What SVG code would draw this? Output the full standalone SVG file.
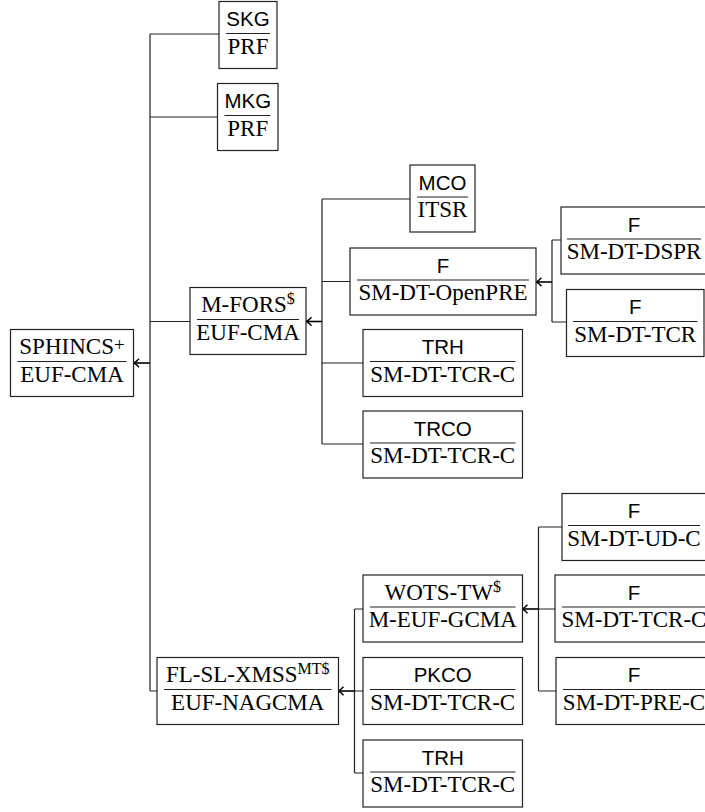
<svg xmlns="http://www.w3.org/2000/svg" width="705" height="812" viewBox="0 0 705 812">
<style>
.box{fill:#fff;stroke:#222;stroke-width:1.2}
.sep{stroke:#222;stroke-width:1.1}
.sf{font-family:"Liberation Sans",Arial,sans-serif;font-size:20.5px;text-anchor:middle;fill:#000}
.rm{font-family:"Liberation Serif","Times New Roman",serif;font-size:23px;text-anchor:middle;fill:#000}
.sup{font-size:16px}
.ln{fill:none;stroke:#222;stroke-width:1.2}
.ar{fill:none;stroke:#000;stroke-width:1.6;marker-end:url(#ah)}
</style>
<defs>
<marker id="ah" markerUnits="userSpaceOnUse" markerWidth="10" markerHeight="10" refX="8" refY="5" orient="auto" overflow="visible">
<path d="M3,0.8 Q6,4.2 8.5,5 Q6,5.8 3,9.2" fill="none" stroke="#000" stroke-width="1.4"/>
</marker>
</defs>
<rect width="705" height="812" fill="#fff"/>

<g id="connectors">
<path class="ln" d="M150,34 V691 M150,34 H219 M150,117 H217.5 M150,321.5 H190 M150,691 H157"/>
<path class="ar" d="M150,363 H134"/>
<path class="ln" d="M322,199 V444 M322,199 H410 M322,281.5 H350 M322,363 H363 M322,444 H363"/>
<path class="ar" d="M322,321.5 H306.5"/>
<path class="ln" d="M552,240 V322 M552,240 H561 M552,322 H566.5"/>
<path class="ar" d="M552,282 H536.5"/>
<path class="ln" d="M538.5,527 V691 M538.5,527 H562 M538.5,609 H555 M538.5,691 H556"/>
<path class="ar" d="M538.5,609 H522.5"/>
<path class="ln" d="M354.5,609 V773 M354.5,609 H363 M354.5,691 H363 M354.5,773 H363"/>
<path class="ar" d="M354.5,691 H338.5"/>
</g>

<g id="skg">
<rect class="box" x="219" y="1.5" width="58" height="67"/>
<line class="sep" x1="226" y1="33.5" x2="270" y2="33.5"/>
<text class="sf" x="248" y="26">SKG</text>
<text class="rm" x="248" y="53.5">PRF</text>
</g>
<g id="mkg">
<rect class="box" x="217.5" y="83.5" width="60.5" height="67"/>
<line class="sep" x1="224.5" y1="115.5" x2="270.5" y2="115.5"/>
<text class="sf" x="247.75" y="108">MKG</text>
<text class="rm" x="247.75" y="135.5">PRF</text>
</g>
<g id="sphincs">
<rect class="box" x="10.5" y="329.5" width="123" height="67"/>
<line class="sep" x1="17.5" y1="361.5" x2="126.5" y2="361.5"/>
<text class="rm" x="72" y="354">SPHINCS<tspan font-size="19" dy="-3">+</tspan></text>
<text class="rm" x="72" y="381.5">EUF-CMA</text>
</g>
<g id="mfors">
<rect class="box" x="190" y="287.5" width="116" height="67"/>
<line class="sep" x1="197" y1="319.5" x2="299" y2="319.5"/>
<text class="rm" x="248" y="312">M-FORS<tspan class="sup" dy="-8">$</tspan></text>
<text class="rm" x="248" y="339.5">EUF-CMA</text>
</g>
<g id="mco">
<rect class="box" x="410" y="165" width="65" height="67"/>
<line class="sep" x1="417" y1="197" x2="468" y2="197"/>
<text class="sf" x="442.5" y="189.5">MCO</text>
<text class="rm" x="442.5" y="217">ITSR</text>
</g>
<g id="f-openpre">
<rect class="box" x="350" y="248" width="186" height="67"/>
<line class="sep" x1="357" y1="280" x2="529" y2="280"/>
<text class="sf" x="443" y="272.5">F</text>
<text class="rm" x="443" y="300">SM-DT-OpenPRE</text>
</g>
<g id="f-dspr">
<rect class="box" x="561" y="207" width="146" height="67"/>
<line class="sep" x1="567" y1="239" x2="701" y2="239"/>
<text class="sf" x="634" y="231.5">F</text>
<text class="rm" x="634" y="259">SM-DT-DSPR</text>
</g>
<g id="f-tcr">
<rect class="box" x="566.5" y="289.5" width="137.5" height="67"/>
<line class="sep" x1="573" y1="321.5" x2="697.5" y2="321.5"/>
<text class="sf" x="635.25" y="314">F</text>
<text class="rm" x="635.25" y="341.5">SM-DT-TCR</text>
</g>
<g id="trh1">
<rect class="box" x="363" y="329.5" width="159.5" height="67"/>
<line class="sep" x1="370" y1="361.5" x2="515.5" y2="361.5"/>
<text class="sf" x="442.75" y="354">TRH</text>
<text class="rm" x="442.75" y="381.5">SM-DT-TCR-C</text>
</g>
<g id="trco">
<rect class="box" x="363" y="411" width="159.5" height="67"/>
<line class="sep" x1="370" y1="443" x2="515.5" y2="443"/>
<text class="sf" x="442.75" y="435.5">TRCO</text>
<text class="rm" x="442.75" y="463">SM-DT-TCR-C</text>
</g>
<g id="f-udc">
<rect class="box" x="562" y="493.5" width="144" height="67"/>
<line class="sep" x1="568" y1="525.5" x2="700" y2="525.5"/>
<text class="sf" x="634" y="518">F</text>
<text class="rm" x="634" y="545.5">SM-DT-UD-C</text>
</g>
<g id="f-tcrc">
<rect class="box" x="555" y="575" width="158" height="67"/>
<line class="sep" x1="562" y1="607" x2="706" y2="607"/>
<text class="sf" x="634" y="599.5">F</text>
<text class="rm" x="634" y="627">SM-DT-TCR-C</text>
</g>
<g id="f-prec">
<rect class="box" x="556" y="657.5" width="156" height="67"/>
<line class="sep" x1="563" y1="689.5" x2="705" y2="689.5"/>
<text class="sf" x="634" y="682">F</text>
<text class="rm" x="634" y="709.5">SM-DT-PRE-C</text>
</g>
<g id="wots">
<rect class="box" x="363" y="575" width="159.5" height="67"/>
<line class="sep" x1="370" y1="607" x2="515.5" y2="607"/>
<text class="rm" x="442.75" y="599.5">WOTS-TW<tspan class="sup" dy="-8">$</tspan></text>
<text class="rm" x="442.75" y="627">M-EUF-GCMA</text>
</g>
<g id="pkco">
<rect class="box" x="363" y="657.5" width="159.5" height="67"/>
<line class="sep" x1="370" y1="689.5" x2="515.5" y2="689.5"/>
<text class="sf" x="442.75" y="682">PKCO</text>
<text class="rm" x="442.75" y="709.5">SM-DT-TCR-C</text>
</g>
<g id="trh2">
<rect class="box" x="363" y="740" width="159.5" height="67"/>
<line class="sep" x1="370" y1="772" x2="515.5" y2="772"/>
<text class="sf" x="442.75" y="764.5">TRH</text>
<text class="rm" x="442.75" y="792">SM-DT-TCR-C</text>
</g>
<g id="flsl">
<rect class="box" x="157" y="657.5" width="181.5" height="67"/>
<line class="sep" x1="164" y1="689.5" x2="331.5" y2="689.5"/>
<text class="rm" x="247.75" y="682">FL-SL-XMSS<tspan class="sup" dy="-8">MT$</tspan></text>
<text class="rm" x="247.75" y="709.5">EUF-NAGCMA</text>
</g>
</svg>
